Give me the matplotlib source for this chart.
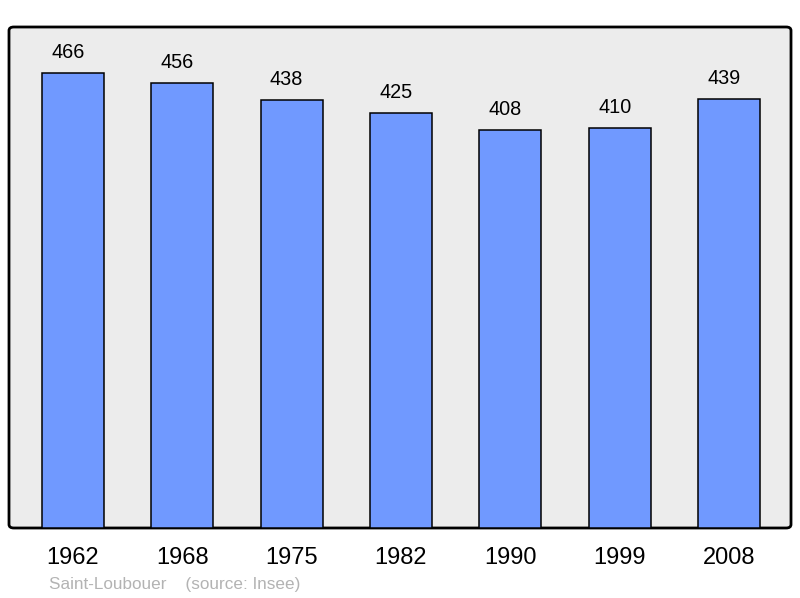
import matplotlib
matplotlib.use("Agg")
import matplotlib.pyplot as plt
from matplotlib.patches import FancyBboxPatch

years = ["1962", "1968", "1975", "1982", "1990", "1999", "2008"]
population = [466, 456, 438, 425, 408, 410, 439]

plt.rcParams['font.family'] = ['Liberation Sans', 'DejaVu Sans']

W, H = 800, 598
fig = plt.figure(figsize=(W / 100, H / 100), dpi=100)
left, right, top, bottom = 9, 791, 27, 528
ax = fig.add_axes([left / W, 1 - bottom / H, (right - left) / W, (bottom - top) / H])
ax.set_facecolor('none')
ax.set_zorder(1)
for s in ax.spines.values():
    s.set_visible(False)

frame = FancyBboxPatch((left / W, 1 - bottom / H), (right - left) / W, (bottom - top) / H,
                       boxstyle="round,pad=0,rounding_size=0.006",
                       transform=fig.transFigure, facecolor='#ececec',
                       edgecolor='black', linewidth=2, zorder=-1)
fig.patches.append(frame)

x = list(range(len(years)))
ax.bar(x, population, width=0.567, color='#7099ff', edgecolor='black',
       linewidth=1.1, zorder=2)
for xi, v in zip(x, population):
    ax.annotate(str(v), (xi, v), xytext=(-3.6, 10.8), textcoords='offset points',
                ha='center', va='baseline', fontsize=14.3, color='black')

ax.set_xlim(-0.585, 6.567)
ax.set_ylim(0, 513)
ax.set_yticks([])
ax.set_xticks(x)
ax.set_xticklabels(years, fontsize=17)
ax.tick_params(axis='x', length=0, pad=13.5)

fig.text(49 / W, 1 - 585 / H, "Saint-Loubouer    (source: Insee)", fontsize=12.3,
         color='#b3b3b3', ha='left', va='center')

fig.savefig('out.png', dpi=100)
